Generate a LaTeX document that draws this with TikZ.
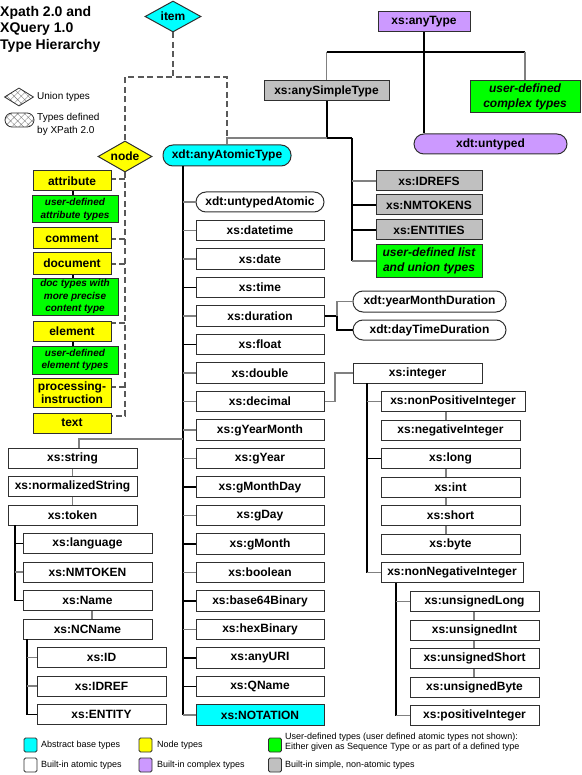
\documentclass[tikz,border=0pt]{standalone}
\usepackage{fontspec}
\setmainfont{Liberation Sans}
\usetikzlibrary{shapes.geometric,patterns.meta}
\definecolor{bc}{HTML}{303030}
\definecolor{cyn}{HTML}{00FFFF}
\definecolor{yel}{HTML}{FFFF00}
\definecolor{grn}{HTML}{00FF00}
\definecolor{lav}{HTML}{CC99FF}
\definecolor{gry}{HTML}{C0C0C0}
\definecolor{lgr}{HTML}{808080}
\newcommand\fs[2]{\fontsize{#1}{#2}\selectfont}
\newcommand\mybox[7]{\node[#2,minimum width=#5pt,minimum height=#6pt] (#1) at (#3,#4) {#7};}
\begin{document}
\begin{tikzpicture}[x=1pt,y=-1pt,
  tb/.style={draw=bc,line width=1pt,fill=white,inner sep=0pt,align=center,font=\bfseries\fs{12}{14}},
  rb/.style={tb,rounded corners=10pt},
  dia/.style={diamond,draw=bc,line width=1pt,inner sep=0pt,aspect=1.8,font=\bfseries\fs{12}{14}},
  grt/.style={tb,fill=grn,font=\bfseries\itshape\fs{10}{12.3}},
  grT/.style={tb,fill=grn,font=\bfseries\itshape\fs{12}{15}},
  gl/.style={draw=lgr,line width=1.3pt},
  bl/.style={draw=black,line width=1.3pt},
  thk/.style={draw=black,line width=2pt},
  dsh/.style={draw=black!65,line width=1.5pt,dash pattern=on 6pt off 3.5pt},
  lsq/.style={draw=bc,line width=0.8pt,minimum width=13pt,minimum height=14pt,inner sep=0pt,rounded corners=1.5pt},
  ltx/.style={anchor=west,inner sep=0pt,font=\fs{9}{10},align=left},
  hat/.style={draw=bc,line width=0.8pt,pattern={Hatch[angle=45,distance=5pt,line width=0.4pt]},pattern color=gray}
]
\useasboundingbox (0,0) rectangle (581,775);

% title
\node[anchor=base west,inner sep=0pt,font=\bfseries\fs{14}{16}] (t1) at (0,17) {Xpath 2.0 and};
\node[anchor=base west,inner sep=0pt,font=\bfseries\fs{14}{16}] (t2) at (0,33) {XQuery 1.0};
\node[anchor=base west,inner sep=0pt,font=\bfseries\fs{14}{16}] (t3) at (0,50) {Type Hierarchy};

% top legend
\node[diamond,hat,minimum width=29pt,minimum height=18pt,inner sep=0pt] (lu) at (19,97) {};
\node[anchor=west,inner sep=0pt,font=\fs{10}{13}] (lut) at (37,97) {Union types};
\node[hat,rounded corners=7pt,minimum width=29pt,minimum height=14pt,inner sep=0pt] (lo) at (19.5,120) {};
\node[anchor=west,inner sep=0pt,font=\fs{10}{13},align=left] (lot) at (37,124.5) {Types defined\\by XPath 2.0};

% top tree
\mybox{anyType}{tb,fill=lav}{424}{22}{92}{20}{xs:anyType}
\mybox{anySimple}{tb,fill=gry}{326.5}{91}{125}{20}{xs:anySimpleType}
\mybox{complex}{grT}{525}{97}{110}{32}{user-defined\\complex types}
\mybox{untyped}{rb,fill=lav}{490.5}{144}{153}{20}{xdt:untyped}
\mybox{anyAtomic}{rb,fill=cyn}{227}{155.5}{128}{21}{xdt:anyAtomicType}
\node[dia,fill=cyn,minimum width=56pt,minimum height=31pt] (item) at (173,16.5) {item};
\node[dia,fill=yel,minimum width=54pt,minimum height=31pt] (nodeD) at (125,156.5) {node};

% list types
\mybox{idrefs}{tb,fill=gry}{429}{181}{106}{20}{xs:IDREFS}
\mybox{nmtokens}{tb,fill=gry}{429}{205}{106}{20}{xs:NMTOKENS}
\mybox{entities}{tb,fill=gry}{429}{230}{106}{20}{xs:ENTITIES}
\mybox{udlist}{grT}{429}{261}{106}{32}{user-defined list\\and union types}

% durations
\mybox{ymd}{rb}{429.5}{301.5}{153}{21}{xdt:yearMonthDuration}
\mybox{dtd}{rb}{429.5}{330}{153}{20}{xdt:dayTimeDuration}

% node column
\mybox{attr}{tb,fill=yel}{72}{181}{78}{20}{attribute}
\mybox{uda}{grt}{75}{209.5}{86}{27}{user-defined\\attribute types}
\mybox{comment}{tb,fill=yel}{72}{238.5}{78}{21}{comment}
\mybox{document}{tb,fill=yel}{72}{263.5}{78}{21}{document}
\mybox{doct}{grt}{75}{296.5}{86}{37}{doc types with\\more precise\\content type}
\mybox{element}{tb,fill=yel}{72}{331}{78}{20}{element}
\mybox{ude}{grt}{75}{360}{86}{28}{user-defined\\element types}
\mybox{proc}{tb,fill=yel,font=\bfseries\fs{12}{13.3}}{72}{392.5}{78}{29}{processing-\\instruction}
\mybox{txt}{tb,fill=yel}{72}{423}{78}{20}{text}

% central column
\mybox{uta}{rb}{260}{202}{128}{20}{xdt:untypedAtomic}
\foreach \nm/\tx [count=\kk] in {datetime/xs:datetime, date/xs:date, time/xs:time, duration/xs:duration, float/xs:float, double/xs:double, decimal/xs:decimal, gym/xs:gYearMonth, gyear/xs:gYear, gmd/xs:gMonthDay, gday/xs:gDay, gmonth/xs:gMonth, boolean/xs:boolean, b64/xs:base64Binary, hex/xs:hexBinary, uri/xs:anyURI, qname/xs:QName}
  {\node[tb,minimum width=128pt,minimum height=20.5pt] (\nm) at (260,{202+28.5*\kk}) {\tx};}
\mybox{notation}{tb,fill=cyn}{260}{715}{128}{20.5}{xs:NOTATION}

% string column
\mybox{string}{tb}{72.5}{458}{129}{20}{xs:string}
\mybox{norm}{tb}{72.5}{486.5}{129}{20}{xs:normalizedString}
\mybox{token}{tb}{72.5}{515}{129}{20}{xs:token}
\mybox{lang}{tb}{87.5}{543.5}{129}{20}{xs:language}
\mybox{nmtoken}{tb}{87.5}{572}{129}{20}{xs:NMTOKEN}
\mybox{name}{tb}{87.5}{600.5}{129}{20}{xs:Name}
\mybox{ncname}{tb}{87.5}{629}{129}{20}{xs:NCName}
\mybox{id}{tb}{101.5}{657.5}{129}{20}{xs:ID}
\mybox{idref}{tb}{101.5}{686}{129}{20}{xs:IDREF}
\mybox{entity}{tb}{101.5}{714.5}{129}{20}{xs:ENTITY}

% integer column
\mybox{integer}{tb}{417.5}{373}{129}{20}{xs:integer}
\mybox{nonpos}{tb}{453}{401.5}{144}{20}{xs:nonPositiveInteger}
\mybox{neg}{tb}{450.5}{430}{139}{20}{xs:negativeInteger}
\mybox{long}{tb}{450.5}{458.5}{139}{20}{xs:long}
\mybox{int}{tb}{450.5}{487}{139}{20}{xs:int}
\mybox{short}{tb}{450.5}{515.5}{139}{20}{xs:short}
\mybox{byte}{tb}{450.5}{544}{139}{20}{xs:byte}
\mybox{nonneg}{tb}{452}{572.5}{142}{20}{xs:nonNegativeInteger}
\mybox{ulong}{tb}{474.5}{601.5}{129}{20}{xs:unsignedLong}
\mybox{uint}{tb}{474.5}{630}{129}{20}{xs:unsignedInt}
\mybox{ushort}{tb}{474.5}{658.5}{129}{20}{xs:unsignedShort}
\mybox{ubyte}{tb}{474.5}{687}{129}{20}{xs:unsignedByte}
\mybox{pos}{tb}{474.5}{715.5}{129}{20}{xs:positiveInteger}

% ---- connectors ----
% anyType
\coordinate (jT) at (424,52);
\draw[thk] (anyType.south) -- (jT);
\draw[bl] (jT) -- (jT |- untyped.north);
\draw[bl] (anySimple.north |- jT) -- (complex.north |- jT);
\draw[gl] (anySimple.north |- jT) -- (anySimple.north);
\draw[gl] (complex.north |- jT) -- (complex.north);
% anySimpleType
\coordinate (jS) at (326.5,138);
\coordinate (jA) at (227,138);
\coordinate (jL) at (352,138);
\draw[thk] (anySimple.south) -- (jS);
\draw[gl] (jS) -- (jA) -- (anyAtomic.north);
\draw[bl] (jS) -- (jL);
\draw[bl,line width=1.6pt] (jL) -- (jL |- udlist.west);
\draw[gl] (jL |- idrefs.west) -- (idrefs.west);
\draw[bl] (jL |- nmtokens.west) -- (nmtokens.west);
\draw[bl] (jL |- entities.west) -- (entities.west);
\draw[gl] (jL |- udlist.west) -- (udlist.west);
% dashed item links
\coordinate (jI) at (173,77);
\coordinate (jD) at (227,77);
\draw[dsh] (item.south) -- (jI);
\draw[dsh] (nodeD.north) |- (jD) -- (jA);
% node list
\coordinate (tj) at (125,416);
\draw[dsh] (nodeD.south) -- (tj) -- (tj -| txt.east);
\foreach \nm/\yy in {attr/179, comment/239, document/264, element/323, proc/387}
  {\coordinate (yy) at (0,\yy); \draw[dsh] (tj |- yy) -- (\nm.east |- yy);}
\coordinate (cN) at (73,0);
\draw[bl] (attr.south -| cN) -- (uda.north -| cN);
\draw[bl] (document.south -| cN) -- (doct.north -| cN);
\draw[bl] (element.south -| cN) -- (ude.north -| cN);
% main vertical
\coordinate (mT) at (183,166);
\draw[thk] (mT) -- (mT |- notation.west);
\foreach \nm/\lc in {uta/gl, datetime/gl, date/gl, time/bl, duration/gl, float/bl, double/gl, decimal/gl, gym/gl, gyear/gl, gmd/bl, gday/gl, gmonth/bl, boolean/gl, b64/bl, hex/gl, uri/bl, qname/bl, notation/gl}
  {\draw[\lc] (mT |- \nm.west) -- (\nm.west);}
% string branch
\coordinate (sJ) at (183,439);
\coordinate (sK) at (79,439);
\draw[gl] (sJ) -- (sK) -- (sK |- string.north);
\draw[gl] (string.south) -- (norm.north);
\draw[gl] (norm.south) -- (token.north);
\coordinate (tk) at (15,525);
\draw[bl] (tk) -- (tk |- name.west) -- (name.west);
\draw[bl] (tk |- lang.west) -- (lang.west);
\draw[gl] (tk |- nmtoken.west) -- (nmtoken.west);
\coordinate (cNm) at (92,0);
\draw[gl] (name.south -| cNm) -- (ncname.north -| cNm);
\coordinate (nc) at (27,639);
\draw[bl] (nc) -- (nc |- entity.west) -- (entity.west);
\draw[gl] (nc |- id.west) -- (id.west);
\draw[gl] (nc |- idref.west) -- (idref.west);
% duration
\coordinate (xdu) at (337,0);
\coordinate (duJ) at (duration.east -| xdu);
\draw[bl] (duration.east) -- (duJ);
\draw[gl] (ymd.west) -| (duJ);
\draw[bl] (dtd.west) -| (duJ);
% decimal to integer
\coordinate (xde) at (335,0);
\draw[gl] (decimal.east) -- (decimal.east -| xde) |- (integer.west);
% integer subtree
\coordinate (iJ) at (367,383);
\draw[bl] (iJ) -- (iJ |- nonneg.west);
\draw[gl] (iJ |- nonpos.west) -- (nonpos.west);
\draw[bl] (iJ |- long.west) -- (long.west);
\draw[gl] (iJ |- nonneg.west) -- (nonneg.west);
\coordinate (xch) at (446,0);
\draw[gl] (nonpos.south -| xch) -- (neg.north -| xch);
\draw[gl] (long.south -| xch) -- (int.north -| xch);
\draw[gl] (int.south -| xch) -- (short.north -| xch);
\draw[gl] (short.south -| xch) -- (byte.north -| xch);
\coordinate (nnJ) at (396,583);
\draw[bl] (nnJ) -- (nnJ |- pos.west);
\draw[gl] (nnJ |- ulong.west) -- (ulong.west);
\draw[gl] (nnJ |- pos.west) -- (pos.west);
\coordinate (xuc) at (474,0);
\draw[gl] (ulong.south -| xuc) -- (uint.north -| xuc);
\draw[gl] (uint.south -| xuc) -- (ushort.north -| xuc);
\draw[gl] (ushort.south -| xuc) -- (ubyte.north -| xuc);

% bottom legend
\node[lsq,fill=cyn] (lg1) at (30.5,745) {};
\node[ltx] (lg1t) at (41,745) {Abstract base types};
\node[lsq,fill=white] (lg2) at (30.5,765) {};
\node[ltx] (lg2t) at (41,765) {Built-in atomic types};
\node[lsq,fill=yel] (lg3) at (145.5,745) {};
\node[ltx] (lg3t) at (157,745) {Node types};
\node[lsq,fill=lav] (lg4) at (145.5,765) {};
\node[ltx] (lg4t) at (157,765) {Built-in complex types};
\node[lsq,fill=grn] (lg5) at (275,745) {};
\node[ltx] (lg5t) at (285,742) {User-defined types (user defined atomic types not shown):\\Either given as Sequence Type or as part of a defined type};
\node[lsq,fill=gry] (lg6) at (275,765) {};
\node[ltx] (lg6t) at (285,765) {Built-in simple, non-atomic types};
\end{tikzpicture}
\end{document}
